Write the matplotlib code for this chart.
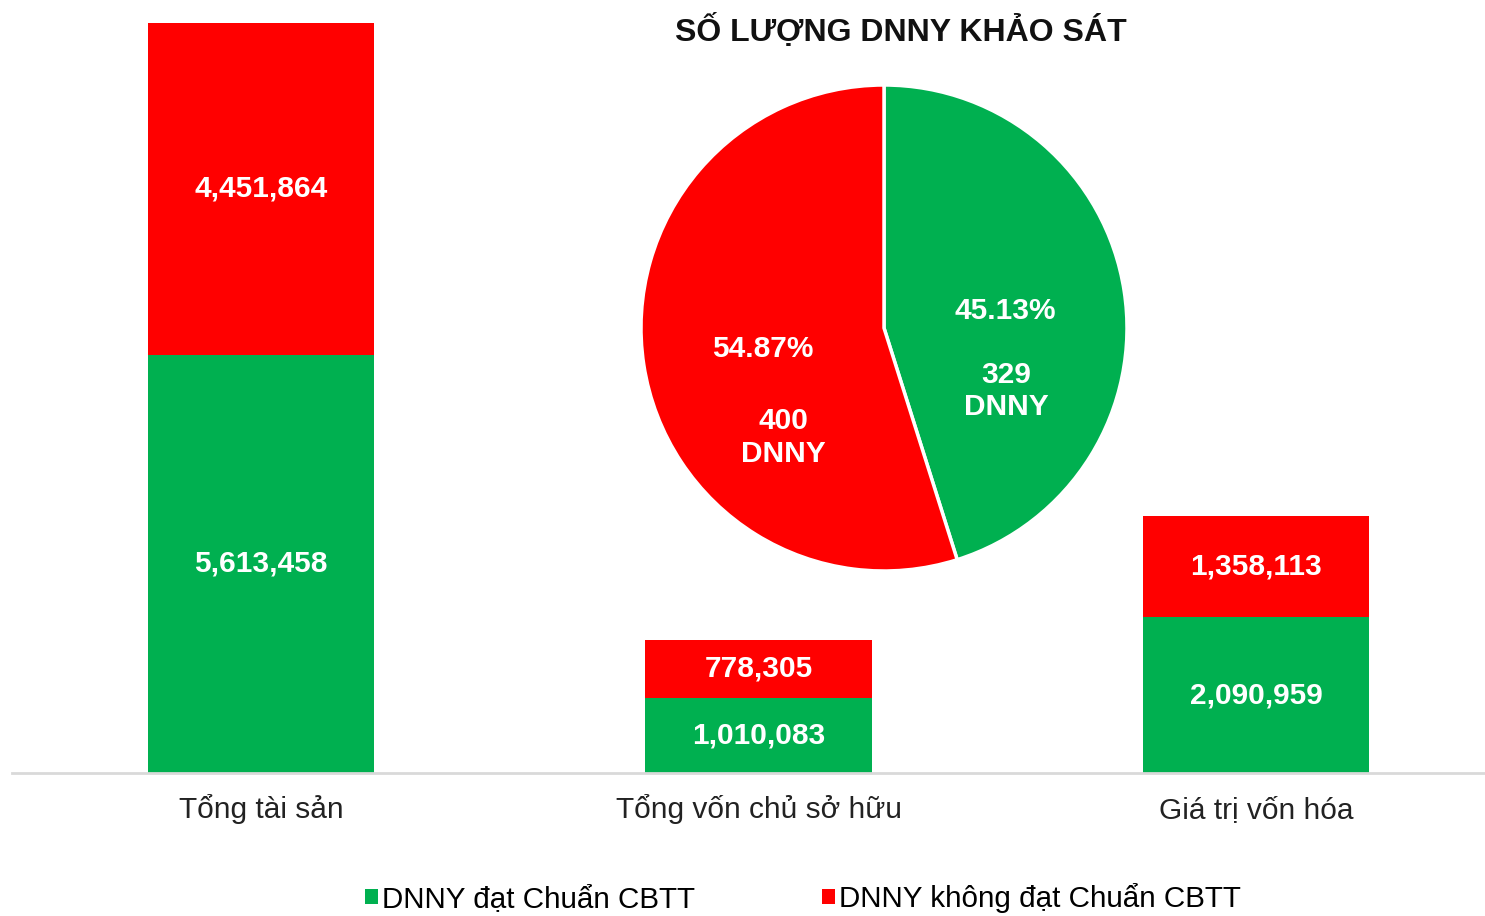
import matplotlib.pyplot as plt

plt.rcParams['font.family'] = ['Liberation Sans', 'DejaVu Sans']

# data
categories = ['Tổng tài sản', 'Tổng vốn chủ sở hữu', 'Giá trị vốn hóa']
dat_chuan = [5613458, 1010083, 2090959]
khong_dat = [4451864, 778305, 1358113]
series_names = ['DNNY đạt Chuẩn CBTT', 'DNNY không đạt Chuẩn CBTT']

pie_counts = [329, 400]
pie_pct = ['45.13%', '54.87%']
pie_title = 'SỐ LƯỢNG DNNY KHẢO SÁT'

green = '#00B050'
red = '#FF0000'

fig = plt.figure(figsize=(14.85, 9.16), dpi=100)

# stacked bars
ax = fig.add_axes([12 / 1485, 143 / 916, 1473 / 1485, 750 / 916])
x = range(len(categories))
b1 = ax.bar(x, dat_chuan, width=0.455, color=green, label=series_names[0])
b2 = ax.bar(x, khong_dat, width=0.455, bottom=dat_chuan, color=red, label=series_names[1])
for bars in (b1, b2):
    ax.bar_label(bars, labels=[f'{v:,}' for v in bars.datavalues], label_type='center',
                 color='white', fontsize=21.5, fontweight='bold')

ax.set_xlim(-0.5005, 2.46)
ax.set_ylim(0, dat_chuan[0] + khong_dat[0])
ax.set_xticks(list(x))
ax.set_xticklabels(categories, fontsize=21.5, color='#222222', va='baseline')
ax.tick_params(axis='x', length=0, pad=32.5)
ax.set_yticks([])
for side in ['top', 'right', 'left']:
    ax.spines[side].set_visible(False)
ax.spines['bottom'].set_color('#D9D9D9')
ax.spines['bottom'].set_linewidth(2)

# pie inset
pax = fig.add_axes([641 / 1485, 345 / 916, 486 / 1485, 486 / 916])
pax.pie(pie_counts, colors=[green, red], startangle=90, counterclock=False,
        wedgeprops=dict(edgecolor='white', linewidth=2.5))
pax.set_xlim(-1, 1)
pax.set_ylim(-1, 1)
pax.set_aspect('equal')
txt = dict(ha='center', va='center', color='white', fontsize=21.5, fontweight='bold')
pax.text(0.50, 0.07, pie_pct[0], **txt)
pax.text(0.505, -0.26, f'{pie_counts[0]}\nDNNY', linespacing=1.2, **txt)
pax.text(-0.497, -0.086, pie_pct[1], **txt)
pax.text(-0.415, -0.45, f'{pie_counts[1]}\nDNNY', linespacing=1.2, **txt)

fig.text(901 / 1485, 1 - 31 / 916, pie_title, ha='center', va='center',
         fontsize=23, fontweight='bold', color='#111111')

fig.legend(loc='center', bbox_to_anchor=(803 / 1485, 1 - 898 / 916), ncol=2,
           frameon=False, fontsize=21.3, handlelength=0.42, handleheight=0.42,
           handletextpad=0.15, columnspacing=4.3)

fig.savefig('out.png', dpi=100)
